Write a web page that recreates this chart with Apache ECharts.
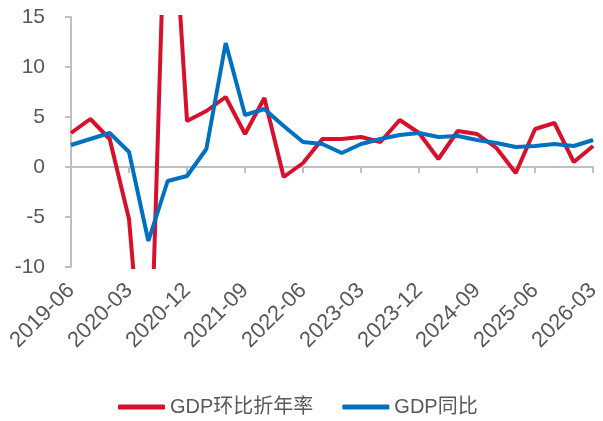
<!DOCTYPE html>
<html>
<head>
<meta charset="utf-8">
<script src="https://cdn.jsdelivr.net/npm/echarts@6/dist/echarts.min.js"></script>
<style>
  html, body { margin: 0; padding: 0; background: #fff; }
  #chart { width: 603px; height: 421px; }
</style>
</head>
<body>
<div id="chart"></div>
<script>
// 季度 2019Q2 - 2026Q1
const quarters = [
  "2019-06", "2019-09", "2019-12",
  "2020-03", "2020-06", "2020-09", "2020-12",
  "2021-03", "2021-06", "2021-09", "2021-12",
  "2022-03", "2022-06", "2022-09", "2022-12",
  "2023-03", "2023-06", "2023-09", "2023-12",
  "2024-03", "2024-06", "2024-09", "2024-12",
  "2025-03", "2025-06", "2025-09", "2025-12",
  "2026-03"
]
// GDP环比折年率 (%)
const qoqAnnualized = [
  3.4, 4.8, 2.8,
  -5.2, -28.0, 35.0, 4.6,
  5.6, 7.0, 3.3, 6.9,
  -1.0, 0.4, 2.8, 2.8,
  3.0, 2.5, 4.7, 3.4,
  0.8, 3.6, 3.3, 1.9,
  -0.6, 3.8, 4.4, 0.5,
  2.1
]
// GDP同比 (%)
const yoy = [
  2.2, 2.8, 3.4,
  1.5, -7.4, -1.4, -0.9,
  1.8, 12.4, 5.2, 5.8,
  4.1, 2.5, 2.3, 1.4,
  2.3, 2.8, 3.2, 3.4,
  3.0, 3.1, 2.7, 2.4,
  2.0, 2.1, 2.3, 2.1,
  2.7
]
const yTicks = { min: -10, max: 15, interval: 5 }

const font = "'Liberation Sans', Arial, 'Noto Sans CJK SC', sans-serif"
const textColor = "#595959"
const axisColor = "#bfbfbf"

const chart = echarts.init(document.getElementById("chart"), null, { renderer: "canvas" })

const option = {
  animation: false,
  backgroundColor: "#ffffff",
  textStyle: { fontFamily: font },
  grid: {
    left: 71,
    right: 5,
    top: 17,
    bottom: 154,
  },
  legend: {
    left: 113,
    top: 392,
    icon: "roundRect",
    itemWidth: 47,
    itemHeight: 5,
    itemGap: 29,
    textStyle: {
      fontFamily: font,
      fontSize: 20,
      color: textColor,
    },
    data: ["GDP环比折年率", "GDP同比"],
  },
  xAxis: [
    {
      // 底部标签
      type: "category",
      position: "bottom",
      data: quarters,
      boundaryGap: false,
      axisLine: { show: false, onZero: false },
      axisTick: { show: false },
      axisLabel: {
        interval: 2,
        rotate: 45,
        margin: 20,
        fontFamily: font,
        fontSize: 22,
        color: textColor,
      },
      splitLine: { show: false },
    },
    {
      // 零轴线
      type: "category",
      position: "bottom",
      data: quarters,
      boundaryGap: false,
      axisLine: { show: true, onZero: true, lineStyle: { color: axisColor, width: 2 } },
      axisTick: { show: true, interval: 2, length: 6, lineStyle: { color: axisColor, width: 2 } },
      axisLabel: { show: false },
      splitLine: { show: false },
    },
  ],
  yAxis: {
    type: "value",
    min: yTicks.min,
    max: yTicks.max,
    interval: yTicks.interval,
    axisLine: { show: true, lineStyle: { color: axisColor, width: 2 } },
    axisTick: { show: true, length: 6, lineStyle: { color: axisColor, width: 2 } },
    axisLabel: {
      margin: 26,
      fontFamily: font,
      fontSize: 21,
      color: textColor,
    },
    splitLine: { show: false },
  },
  series: [
    {
      name: "GDP环比折年率",
      type: "line",
      xAxisIndex: 0,
      data: qoqAnnualized,
      symbol: "none",
      clip: true,
      color: "#d7102b",
      lineStyle: { width: 4, color: "#d7102b" },
    },
    {
      name: "GDP同比",
      type: "line",
      xAxisIndex: 0,
      data: yoy,
      symbol: "none",
      clip: true,
      color: "#0070c0",
      lineStyle: { width: 4, color: "#0070c0" },
    },
  ],
}

chart.setOption(option)
window.addEventListener("resize", () => {
  chart.resize()
})
</script>
</body>
</html>
